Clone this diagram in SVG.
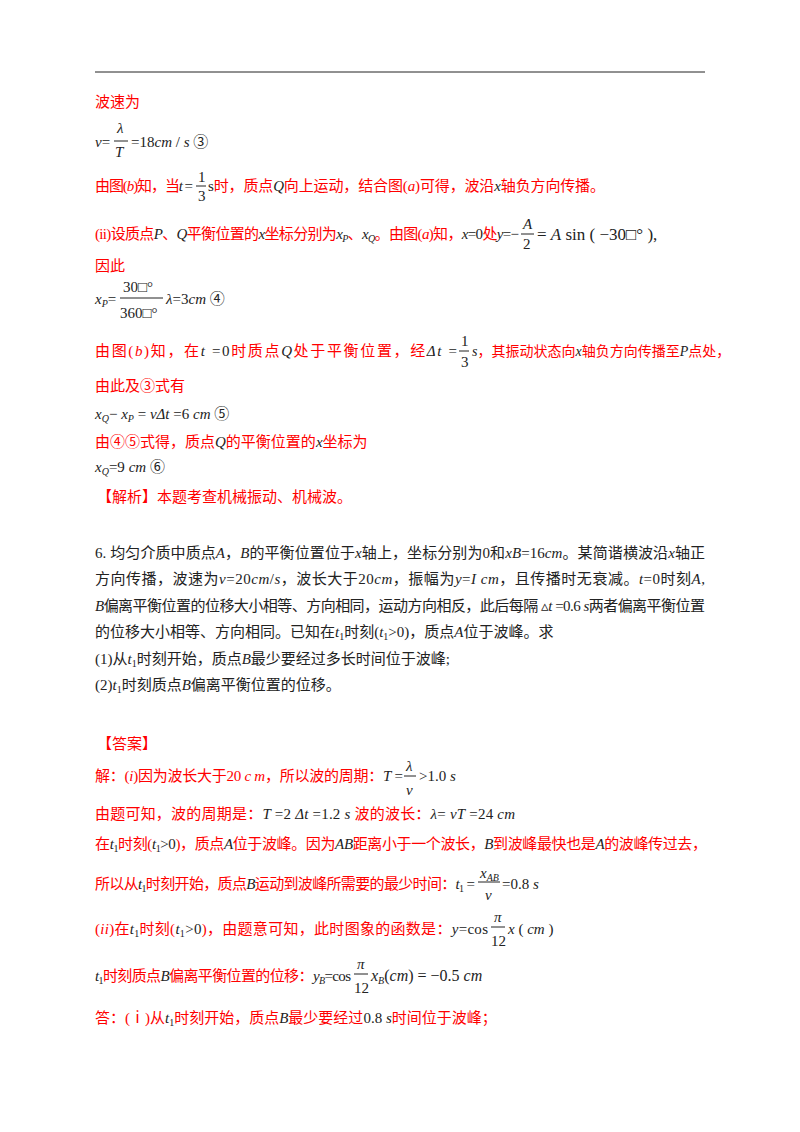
<svg xmlns="http://www.w3.org/2000/svg" width="800" height="1132" viewBox="0 0 800 1132">
<style>
text{font-family:"Liberation Serif","Noto Sans CJK SC",serif;font-size:15px;fill:#ff0000}
.k{fill:#222}
.i{font-style:italic}
.s{font-size:10px}
line{stroke:#222;stroke-width:1}
</style>
<rect width="800" height="1132" fill="#fff"/>
<line x1="95" y1="72" x2="705" y2="72" stroke-width="1.5"/>
<g id="part-a">
<text x="95" y="107">波速为</text>
<text class="k" x="95" y="147"><tspan class="i">v</tspan>=</text>
<text class="k i" x="117" y="133">λ</text><line x1="114" y1="141" x2="128" y2="141"/><text class="k i" x="115" y="157">T</text>
<text class="k" x="131" y="147">=18<tspan class="i">cm</tspan> / <tspan class="i">s</tspan> ③</text>
<text x="95" y="191" textLength="98" lengthAdjust="spacing">由图(<tspan class="i">b</tspan>)知，当<tspan class="k i">t</tspan><tspan class="k"> =</tspan></text>
<text class="k" x="198" y="182">1</text><line x1="196" y1="186" x2="206" y2="186"/><text class="k" x="198" y="201">3</text>
<text x="208" y="191" textLength="397" lengthAdjust="spacing"><tspan class="k">s</tspan>时，质点<tspan class="k i">Q</tspan>向上运动，结合图(<tspan class="i">a</tspan>)可得，波沿<tspan class="k i">x</tspan>轴负方向传播。</text>
<text x="95" y="239" textLength="424" lengthAdjust="spacing">(ii)设质点<tspan class="k i">P</tspan>、<tspan class="k i">Q</tspan>平衡位置的<tspan class="k i">x</tspan>坐标分别为<tspan class="k i">x</tspan><tspan class="k i s" dy="3">P</tspan><tspan dy="-3">、</tspan><tspan class="k i">x</tspan><tspan class="k i s" dy="3">Q</tspan><tspan dy="-3">。由图(</tspan><tspan class="i">a</tspan>)知，<tspan class="k"><tspan class="i">x</tspan>=0</tspan>处<tspan class="k"><tspan class="i">y</tspan>=−</tspan></text>
<text class="k i" x="523" y="229">A</text><line x1="521" y1="234" x2="534" y2="234"/><text class="k" x="523" y="249">2</text>
<text class="k" x="537" y="240" style="font-size:17px">= <tspan class="i">A</tspan> sin ( −30□° ),</text>
<text x="95" y="271">因此</text>
<text class="k" x="95" y="304"><tspan class="i">x</tspan><tspan class="i s" dy="3">P</tspan><tspan dy="-3">=</tspan></text>
<text class="k" x="123" y="292">30□°</text><line x1="120" y1="298" x2="163" y2="298"/><text class="k" x="120" y="318">360□°</text>
<text class="k" x="166" y="304"><tspan class="i">λ</tspan>=3<tspan class="i">cm</tspan> ④</text>
<text x="95" y="356" textLength="362" lengthAdjust="spacing">由图(<tspan class="i">b</tspan>)知，在<tspan class="k"><tspan class="i">t</tspan> =0</tspan>时质点<tspan class="k i">Q</tspan>处于平衡位置，经<tspan class="k i">Δt</tspan><tspan class="k"> =</tspan></text>
<text class="k" x="461" y="346">1</text><line x1="459" y1="351" x2="469" y2="351"/><text class="k" x="461" y="367">3</text>
<text x="472" y="356" style="font-size:14px"><tspan class="k i">s</tspan>，其振动状态向<tspan class="k i">x</tspan>轴负方向传播至<tspan class="k i">P</tspan>点处，</text>
<text x="95" y="391">由此及③式有</text>
<text class="k" x="95" y="419"><tspan class="i">x</tspan><tspan class="i s" dy="3">Q</tspan><tspan dy="-3">− </tspan><tspan class="i">x</tspan><tspan class="i s" dy="3">P</tspan><tspan dy="-3"> = </tspan><tspan class="i">vΔt</tspan> =6 <tspan class="i">cm</tspan> ⑤</text>
<text x="95" y="447">由④⑤式得，质点<tspan class="k i">Q</tspan>的平衡位置的<tspan class="k i">x</tspan>坐标为</text>
<text class="k" x="95" y="472"><tspan class="i">x</tspan><tspan class="i s" dy="3">Q</tspan><tspan dy="-3">=9 </tspan><tspan class="i">cm</tspan> ⑥</text>
<text x="97" y="502">【解析】本题考查机械振动、机械波。</text>
</g>
<g id="question">
<text x="95" y="558" textLength="610" lengthAdjust="spacing" style="fill:#222">6. 均匀介质中质点<tspan class="i">A</tspan>，<tspan class="i">B</tspan>的平衡位置位于<tspan class="i">x</tspan>轴上，坐标分别为0和<tspan class="i">xB</tspan>=16<tspan class="i">cm</tspan>。某简谐横波沿<tspan class="i">x</tspan>轴正</text>
<text x="95" y="584" textLength="610" lengthAdjust="spacing" style="fill:#222">方向传播，波速为<tspan class="i">v</tspan>=20<tspan class="i">cm</tspan>/<tspan class="i">s</tspan>，波长大于20<tspan class="i">cm</tspan>，振幅为<tspan class="i">y</tspan>=<tspan class="i">I cm</tspan>，且传播时无衰减。<tspan class="i">t</tspan>=0时刻<tspan class="i">A</tspan>,</text>
<text x="95" y="611" textLength="610" lengthAdjust="spacing" style="fill:#222"><tspan class="i">B</tspan>偏离平衡位置的位移大小相等、方向相同，运动方向相反，此后每隔 ▵<tspan class="i">t</tspan> =0.6 <tspan class="i">s</tspan>两者偏离平衡位置</text>
<text x="95" y="637" style="fill:#222">的位移大小相等、方向相同。已知在<tspan class="i">t</tspan><tspan class="s" dy="3">1</tspan><tspan dy="-3">时刻(</tspan><tspan class="i">t</tspan><tspan class="s" dy="3">1</tspan><tspan dy="-3">&gt;0)，质点</tspan><tspan class="i">A</tspan>位于波峰。求</text>
<text x="95" y="664" style="fill:#222">(1)从<tspan class="i">t</tspan><tspan class="s" dy="3">1</tspan><tspan dy="-3">时刻开始，质点</tspan><tspan class="i">B</tspan>最少要经过多长时间位于波峰;</text>
<text x="95" y="690" style="fill:#222">(2)<tspan class="i">t</tspan><tspan class="s" dy="3">1</tspan><tspan dy="-3">时刻质点</tspan><tspan class="i">B</tspan>偏离平衡位置的位移。</text>
</g>
<g id="answer">
<text x="97" y="749">【答案】</text>
<text x="95" y="781" textLength="308" lengthAdjust="spacing">解：(<tspan class="i">i</tspan>)因为波长大于20 <tspan class="i">c m</tspan>，所以波的周期：<tspan class="k"><tspan class="i">T</tspan> =</tspan></text>
<text class="k i" x="406" y="771">λ</text><line x1="404" y1="776" x2="416" y2="776"/><text class="k i" x="406" y="795">v</text>
<text class="k" x="419" y="781">&gt;1.0 <tspan class="i">s</tspan></text>
<text x="95" y="819" textLength="420" lengthAdjust="spacing">由题可知，波的周期是：<tspan class="k"><tspan class="i">T</tspan> =2 <tspan class="i">Δt</tspan> =1.2 <tspan class="i">s</tspan></tspan>   波的波长：<tspan class="k"><tspan class="i">λ</tspan>= <tspan class="i">vT</tspan> =24 <tspan class="i">cm</tspan></tspan></text>
<text x="95" y="849" textLength="612" lengthAdjust="spacing">在<tspan class="k i">t</tspan><tspan class="k s" dy="3">1</tspan><tspan dy="-3">时刻(</tspan><tspan class="k i">t</tspan><tspan class="k s" dy="3">1</tspan><tspan class="k" dy="-3">&gt;0</tspan>)，质点<tspan class="k i">A</tspan>位于波峰。因为<tspan class="k i">AB</tspan>距离小于一个波长，<tspan class="k i">B</tspan>到波峰最快也是<tspan class="k i">A</tspan>的波峰传过去，</text>
<text x="95" y="889" textLength="380" lengthAdjust="spacing">所以从<tspan class="k i">t</tspan><tspan class="k s" dy="3">1</tspan><tspan dy="-3">时刻开始，质点</tspan><tspan class="k i">B</tspan>运动到波峰所需要的最少时间：<tspan class="k i">t</tspan><tspan class="k s" dy="3">1</tspan><tspan class="k" dy="-3"> =</tspan></text>
<text class="k i" x="480" y="878">x<tspan class="s" dy="3">AB</tspan></text><line x1="478" y1="882" x2="500" y2="882"/><text class="k i" x="485" y="900">v</text>
<text class="k" x="502" y="889">=0.8 <tspan class="i">s</tspan></text>
<text x="95" y="934" textLength="393" lengthAdjust="spacing">(<tspan class="i">ii</tspan>)在<tspan class="k i">t</tspan><tspan class="k s" dy="3">1</tspan><tspan dy="-3">时刻(</tspan><tspan class="k i">t</tspan><tspan class="k s" dy="3">1</tspan><tspan class="k" dy="-3">&gt;0</tspan>)，由题意可知，此时图象的函数是：<tspan class="k"><tspan class="i">y</tspan>=cos</tspan></text>
<text class="k i" x="494" y="922">π</text><line x1="491" y1="927" x2="505" y2="927"/><text class="k" x="491" y="946">12</text>
<text class="k" x="508" y="934"><tspan class="i">x</tspan> ( <tspan class="i">cm</tspan> )</text>
<text x="95" y="981" textLength="256" lengthAdjust="spacing"><tspan class="k i">t</tspan><tspan class="k s" dy="3">1</tspan><tspan dy="-3">时刻质点</tspan><tspan class="k i">B</tspan>偏离平衡位置的位移：<tspan class="k"><tspan class="i">y</tspan><tspan class="i s" dy="3">B</tspan><tspan dy="-3">=cos</tspan></tspan></text>
<text class="k i" x="357" y="969">π</text><line x1="354" y1="974" x2="368" y2="974"/><text class="k" x="354" y="993">12</text>
<text class="k" x="371" y="981" style="font-size:16px"><tspan class="i">x</tspan><tspan class="i s" dy="3">B</tspan><tspan dy="-3">(</tspan><tspan class="i">cm</tspan>) = −0.5 <tspan class="i">cm</tspan></text>
<text x="95" y="1023">答：(ⅰ)从<tspan class="k i">t</tspan><tspan class="k s" dy="3">1</tspan><tspan dy="-3">时刻开始，质点</tspan><tspan class="k i">B</tspan>最少要经过<tspan class="k">0.8 <tspan class="i">s</tspan></tspan>时间位于波峰；</text>
</g>
</svg>
